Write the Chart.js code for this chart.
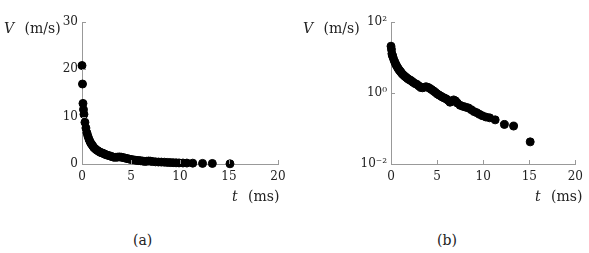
<!DOCTYPE html>
<html>
<head>
<meta charset="utf-8">
<script src="https://cdn.jsdelivr.net/npm/chart.js@4.4.0/dist/chart.umd.min.js"></script>
<style>
  body { margin: 0; background: #fff; width: 589px; height: 253px; overflow: hidden; position: relative; }
  canvas { position: absolute; top: 0; }
  .lbl { position: absolute; font-family: "DejaVu Serif", "Liberation Serif", serif; font-size: 14px; color: #222; white-space: nowrap; }
  .lbl i { margin-right: 6px; }
</style>
</head>
<body>
<canvas id="chart-a" width="295" height="200" style="left:0"></canvas>
<canvas id="chart-b" width="294" height="200" style="left:295px"></canvas>

<div class="lbl" style="left:4px; top:20px"><i>V</i> (m/s)</div>
<div class="lbl" style="left:303px; top:20px"><i>V</i> (m/s)</div>
<div class="lbl" style="left:232px; top:188px"><i>t</i> (ms)</div>
<div class="lbl" style="left:535px; top:188px"><i>t</i> (ms)</div>
<div class="lbl" style="left:133px; top:232px">(a)</div>
<div class="lbl" style="left:437px; top:232px">(b)</div>

<script>
// tijd (ms) en snelheid (m/s)
const timeMs = [0, 0.05, 0.1, 0.15, 0.2, 0.3, 0.4, 0.5, 0.6, 0.7, 0.8, 0.9, 1.0, 1.1, 1.2, 1.35, 1.5, 1.65, 1.8, 1.95,
    2.1, 2.25, 2.4, 2.6, 2.8, 3.0, 3.2, 3.4, 3.6, 3.8, 4.0, 4.2, 4.4, 4.6, 4.8, 5.0, 5.2, 5.4, 5.6, 5.8,
    6.0, 6.2, 6.4, 6.6, 6.8, 7.0, 7.2, 7.5, 7.8, 8.1, 8.4, 8.7, 9.0, 9.3, 9.6, 9.9, 10.3, 10.7, 11.3, 12.3, 13.3, 15.1];
const velocity = [20.8, 16.9, 12.8, 11.5, 10.5, 8.8, 7.6, 6.6, 5.9, 5.3, 4.8, 4.4, 4.1, 3.8, 3.5, 3.2, 2.95, 2.75, 2.55, 2.4,
    2.3, 2.15, 2.0, 1.85, 1.75, 1.6, 1.45, 1.4, 1.45, 1.5, 1.45, 1.35, 1.25, 1.15, 1.05, 0.95, 0.88, 0.82, 0.76, 0.72,
    0.68, 0.62, 0.55, 0.58, 0.64, 0.6, 0.52, 0.45, 0.42, 0.40, 0.38, 0.34, 0.30, 0.28, 0.25, 0.23, 0.21, 0.20, 0.175, 0.13, 0.117, 0.042];

const xTicks = [0, 5, 10, 15, 20];
const yTicksLin = [0, 10, 20, 30];
const yTicksLog = [0.01, 1, 100];
const logLabels = { 0.01: '10\u207B\u00B2', 1: '10\u2070', 100: '10\u00B2' };

const points = timeMs.map((t, i) => ({ x: t, y: velocity[i] }));

const font = { family: '"DejaVu Serif", "Liberation Serif", serif', size: 12 };
const axisColor = '#999';
const textColor = '#222';

// kleine tikjes naar binnen
const innerTicks = {
    id: 'innerTicks',
    afterDraw(chart) {
        const ctx = chart.ctx;
        const xs = chart.scales.x, ys = chart.scales.y;
        ctx.save();
        ctx.strokeStyle = axisColor;
        ctx.lineWidth = 1;
        ctx.beginPath();
        xs.ticks.forEach(t => {
            if (t.value === xs.min) return;
            const px = Math.round(xs.getPixelForValue(t.value)) + 0.5;
            ctx.moveTo(px, ys.bottom);
            ctx.lineTo(px, ys.bottom - 4);
        });
        ys.ticks.forEach(t => {
            if (t.value === ys.min) return;
            const py = Math.round(ys.getPixelForValue(t.value)) + 0.5;
            ctx.moveTo(xs.left, py);
            ctx.lineTo(xs.left + 4, py);
        });
        ctx.stroke();
        ctx.restore();
    }
};

function makeChart(id, yOpts, yWidth, rightPad) {
    const ctx = document.getElementById(id).getContext('2d');
    return new Chart(ctx, {
        type: 'scatter',
        data: {
            datasets: [{
                data: points,
                backgroundColor: '#000',
                borderColor: '#000',
                pointRadius: 4,
                pointHoverRadius: 4,
                clip: false
            }]
        },
        options: {
            responsive: false,
            animation: false,
            events: [],
            layout: { padding: { left: 0, top: 22, right: rightPad, bottom: 0 } },
            plugins: { legend: { display: false }, tooltip: { enabled: false } },
            scales: {
                x: {
                    type: 'linear',
                    min: 0, max: 20,
                    afterBuildTicks: s => { s.ticks = xTicks.map(v => ({ value: v })); },
                    afterFit: s => { s.height = 36; },
                    grid: { drawOnChartArea: false, drawTicks: false },
                    border: { display: true, color: axisColor, width: 1 },
                    ticks: { font, color: textColor, padding: 6, maxRotation: 0 }
                },
                y: Object.assign({
                    afterFit: s => { s.width = yWidth; },
                    grid: { drawOnChartArea: false, drawTicks: false },
                    border: { display: true, color: axisColor, width: 1 }
                }, yOpts)
            }
        },
        plugins: [innerTicks]
    });
}

makeChart('chart-a', {
    type: 'linear',
    min: 0, max: 30,
    afterBuildTicks: s => { s.ticks = yTicksLin.map(v => ({ value: v })); },
    ticks: { font, color: textColor, padding: 4 }
}, 82, 17);

makeChart('chart-b', {
    type: 'logarithmic',
    min: 0.01, max: 100,
    afterBuildTicks: s => { s.ticks = yTicksLog.map(v => ({ value: v })); },
    ticks: { font, color: textColor, padding: 4, callback: v => logLabels[v] }
}, 96, 11);
</script>
</body>
</html>
